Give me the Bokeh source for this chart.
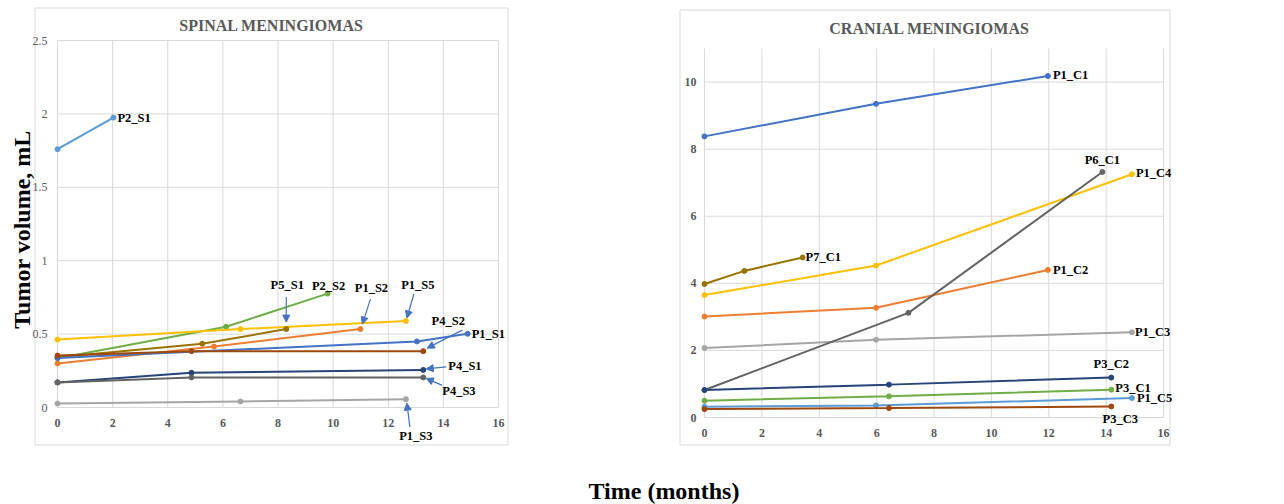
import math
from bokeh.plotting import figure
from bokeh.models import Arrow, NormalHead, Range1d
from bokeh.core.properties import value
from bokeh.embed import file_html
from bokeh.resources import INLINE

FONT = "Liberation Serif"
GRID = "#d9d9d9"
TXT = "#595959"
ARROW = "#4472C4"
W, H = 1284, 504

# ---------------- data: spinal meningiomas (months, mL) ----------------
p2_s1_t = [0, 2.03];            p2_s1_v = [1.76, 1.975]
p2_s2_t = [0, 6.12, 9.8];       p2_s2_v = [0.335, 0.55, 0.776]
p1_s5_t = [0, 6.64, 12.64];     p1_s5_v = [0.463, 0.534, 0.589]
p5_s1_t = [0, 5.25, 8.3];       p5_s1_v = [0.342, 0.434, 0.534]
p1_s2_t = [0, 5.68, 10.99];     p1_s2_v = [0.30, 0.415, 0.534]
p1_s1_t = [0, 13.04, 14.88];    p1_s1_v = [0.338, 0.45, 0.502]
p4_s2_t = [0, 4.86, 13.27];     p4_s2_v = [0.354, 0.384, 0.384]
p4_s1_t = [0, 4.86, 13.27];     p4_s1_v = [0.171, 0.237, 0.256]
p4_s3_t = [0, 4.86, 13.27];     p4_s3_v = [0.171, 0.205, 0.205]
p1_s3_t = [0, 6.64, 12.64];     p1_s3_v = [0.027, 0.041, 0.057]

# ---------------- data: cranial meningiomas (months, mL) ----------------
p1_c1_t = [0, 5.98, 11.97];     p1_c1_v = [8.38, 9.35, 10.18]
p6_c1_t = [0, 7.11, 13.87];     p6_c1_v = [0.82, 3.12, 7.32]
p1_c4_t = [0, 5.98, 14.9];      p1_c4_v = [3.65, 4.53, 7.25]
p7_c1_t = [0, 1.39, 3.42];      p7_c1_v = [3.98, 4.37, 4.77]
p1_c2_t = [0, 5.98, 11.97];     p1_c2_v = [3.01, 3.27, 4.40]
p1_c3_t = [0, 5.98, 14.9];      p1_c3_v = [2.07, 2.32, 2.54]
p3_c2_t = [0, 6.43, 14.18];     p3_c2_v = [0.82, 0.98, 1.19]
p3_c1_t = [0, 6.43, 14.18];     p3_c1_v = [0.50, 0.63, 0.83]
p1_c5_t = [0, 5.98, 14.9];      p1_c5_v = [0.32, 0.36, 0.58]
p3_c3_t = [0, 6.43, 14.18];     p3_c3_v = [0.25, 0.28, 0.33]

x_ticks = [0, 2, 4, 6, 8, 10, 12, 14, 16]
spinal_y_ticks = [0, 0.5, 1, 1.5, 2, 2.5]
spinal_y_labels = ["0", "0.5", "1", "1.5", "2", "2.5"]
cranial_y_ticks = [0, 2, 4, 6, 8, 10]
cranial_y_labels = ["0", "2", "4", "6", "8", "10"]

spinal_series = [
    ("P2_S1", p2_s1_t, p2_s1_v, "#5B9BD5"),
    ("P2_S2", p2_s2_t, p2_s2_v, "#70AD47"),
    ("P1_S5", p1_s5_t, p1_s5_v, "#FFC000"),
    ("P5_S1", p5_s1_t, p5_s1_v, "#997300"),
    ("P1_S2", p1_s2_t, p1_s2_v, "#ED7D31"),
    ("P1_S1", p1_s1_t, p1_s1_v, "#4472C4"),
    ("P4_S2", p4_s2_t, p4_s2_v, "#9E480E"),
    ("P4_S1", p4_s1_t, p4_s1_v, "#264478"),
    ("P4_S3", p4_s3_t, p4_s3_v, "#636363"),
    ("P1_S3", p1_s3_t, p1_s3_v, "#A5A5A5"),
]
cranial_series = [
    ("P1_C1", p1_c1_t, p1_c1_v, "#4472C4"),
    ("P1_C3", p1_c3_t, p1_c3_v, "#A5A5A5"),
    ("P1_C2", p1_c2_t, p1_c2_v, "#ED7D31"),
    ("P1_C4", p1_c4_t, p1_c4_v, "#FFC000"),
    ("P7_C1", p7_c1_t, p7_c1_v, "#997300"),
    ("P6_C1", p6_c1_t, p6_c1_v, "#636363"),
    ("P3_C2", p3_c2_t, p3_c2_v, "#264478"),
    ("P3_C1", p3_c1_t, p3_c1_v, "#70AD47"),
    ("P1_C5", p1_c5_t, p1_c5_v, "#5B9BD5"),
    ("P3_C3", p3_c3_t, p3_c3_v, "#9E480E"),
]

# label placement: (name, dx px, dy px (up), align) relative to the series' last point
spinal_label_pos = [
    ("P2_S1", 4, 0, "left"), ("P2_S2", 1, 8, "center"), ("P5_S1", 1, 44, "center"),
    ("P1_S2", 11, 41, "center"), ("P1_S5", 12, 36, "center"), ("P4_S2", 25, 30, "center"),
    ("P1_S1", 4, 0, "left"), ("P4_S1", 25, 4, "left"), ("P4_S3", 19, -14, "left"),
    ("P1_S3", 10, -37, "center"),
]
# arrows: (name, tail dx, tail dy, head dx, head dy) px relative to the last point
spinal_arrow_pos = [
    ("P5_S1", 0, 32, 0, 7), ("P1_S2", 10, 30, 2, 5), ("P1_S5", 8, 27, 1, 3),
    ("P4_S2", 39, 21, 4, 3), ("P4_S1", 23, 3, 3, 1), ("P4_S3", 19, -8, 3, -1),
    ("P1_S3", 4, -28, 1, -4),
]
cranial_label_pos = [
    ("P1_C1", 5, 1, "left"), ("P6_C1", 0, 12, "center"), ("P1_C4", 4, 1, "left"),
    ("P7_C1", 3, 0, "left"), ("P1_C2", 5, 0, "left"), ("P1_C3", 3, 0, "left"),
    ("P3_C2", 0, 14, "center"), ("P3_C1", 4, 2, "left"), ("P1_C5", 5, 0, "left"),
    ("P3_C3", 9, -13, "center"),
]

# ---------------- page-level figure (whole canvas is the frame) ----------------
p = figure(width=W, height=H, x_range=Range1d(0, W), y_range=Range1d(H, 0),
           output_backend="svg", toolbar_location=None, min_border=0,
           x_axis_location=None, y_axis_location=None,
           background_fill_color="white", border_fill_color="white")
p.outline_line_color = None
p.grid.visible = False


def panel(key, box, frame, xmax, ymax, yticks, ylabels, ytick_style, xlab_dy, ylab_dx,
          title, title_pos, series, label_pos, arrow_pos):
    bx0, by0, bx1, by1 = box
    fx0, fy0, fx1, fy1 = frame          # page px of data (0, 0) and of (xmax, ymax)
    ux = xmax / (fx1 - fx0)             # data units per pixel
    uy = ymax / (fy0 - fy1)
    xn, yn = key + "x", key + "y"
    p.extra_x_ranges[xn] = Range1d(-fx0 * ux, (W - fx0) * ux)
    p.extra_y_ranges[yn] = Range1d(-(H - fy0) * uy, fy0 * uy)
    kw = dict(x_range_name=xn, y_range_name=yn)

    # box around the chart
    p.quad(left=[bx0 + 0.5], right=[bx1 - 0.5], top=[by0 + 0.5], bottom=[by1 - 0.5],
           fill_color=None, line_color=GRID, line_width=1)
    # chart title
    p.text(x=[title_pos[0]], y=[title_pos[1]], text=[title], text_align="center",
           text_baseline="middle", text_font=value(FONT), text_font_size="16px",
           text_font_style="bold", text_color=TXT)

    # grid lines
    p.segment(x0=x_ticks, y0=[0] * len(x_ticks), x1=x_ticks, y1=[ymax] * len(x_ticks),
              line_color=GRID, line_width=1, **kw)
    p.segment(x0=[0] * len(yticks), y0=yticks, x1=[xmax] * len(yticks), y1=yticks,
              line_color=GRID, line_width=1, **kw)
    # tick labels
    p.text(x=x_ticks, y=[-xlab_dy * uy] * len(x_ticks), text=[str(t) for t in x_ticks],
           text_align="center", text_baseline="middle", text_font=value(FONT),
           text_font_size="12px", text_font_style="bold", text_color=TXT, **kw)
    p.text(x=[-ylab_dx * ux] * len(yticks), y=yticks, text=ylabels,
           text_align="right", text_baseline="middle", text_font=value(FONT),
           text_font_size="12px", text_font_style=ytick_style, text_color=TXT, **kw)

    last = {}
    for name, t, v, color in series:
        p.line(t, v, line_color=color, line_width=2, **kw)
        p.scatter(t, v, size=5, fill_color=color, line_color=color, **kw)
        last[name] = (t[-1], v[-1])

    for name, tdx, tdy, hdx, hdy in arrow_pos:
        x0, y0 = last[name]
        p.add_layout(Arrow(end=NormalHead(size=7, fill_color=ARROW, line_color=ARROW),
                           x_start=x0 + tdx * ux, y_start=y0 + tdy * uy,
                           x_end=x0 + hdx * ux, y_end=y0 + hdy * uy,
                           line_color=ARROW, line_width=1.2, **kw))

    for name, dx, dy, align in label_pos:
        x0, y0 = last[name]
        p.text(x=[x0 + dx * ux], y=[y0 + dy * uy], text=[name], text_align=align,
               text_baseline="middle", text_font=value(FONT), text_font_size="12.5px",
               text_font_style="bold", text_color="black", **kw)


panel("s", (34, 7, 508, 445), (57, 407, 498, 40), 16, 2.5, spinal_y_ticks, spinal_y_labels,
      "normal", 15, 10, "SPINAL MENINGIOMAS", (271, 25), spinal_series, spinal_label_pos,
      spinal_arrow_pos)
panel("c", (679, 9, 1170, 445), (704, 417, 1163, 48), 16, 11, cranial_y_ticks, cranial_y_labels,
      "bold", 15, 8, "CRANIAL MENINGIOMAS", (929, 28), cranial_series, cranial_label_pos, [])

# shared axis titles
p.text(x=[21], y=[229], text=["Tumor volume, mL"], angle=math.pi / 2, text_align="center",
       text_baseline="middle", text_font=value(FONT), text_font_size="24px",
       text_font_style="bold", text_color="black")
p.text(x=[588], y=[490], text=["Time (months)"], text_align="left", text_baseline="middle",
       text_font=value(FONT), text_font_size="24px", text_font_style="bold", text_color="black")

open("out.html", "w").write(file_html(p, INLINE))
